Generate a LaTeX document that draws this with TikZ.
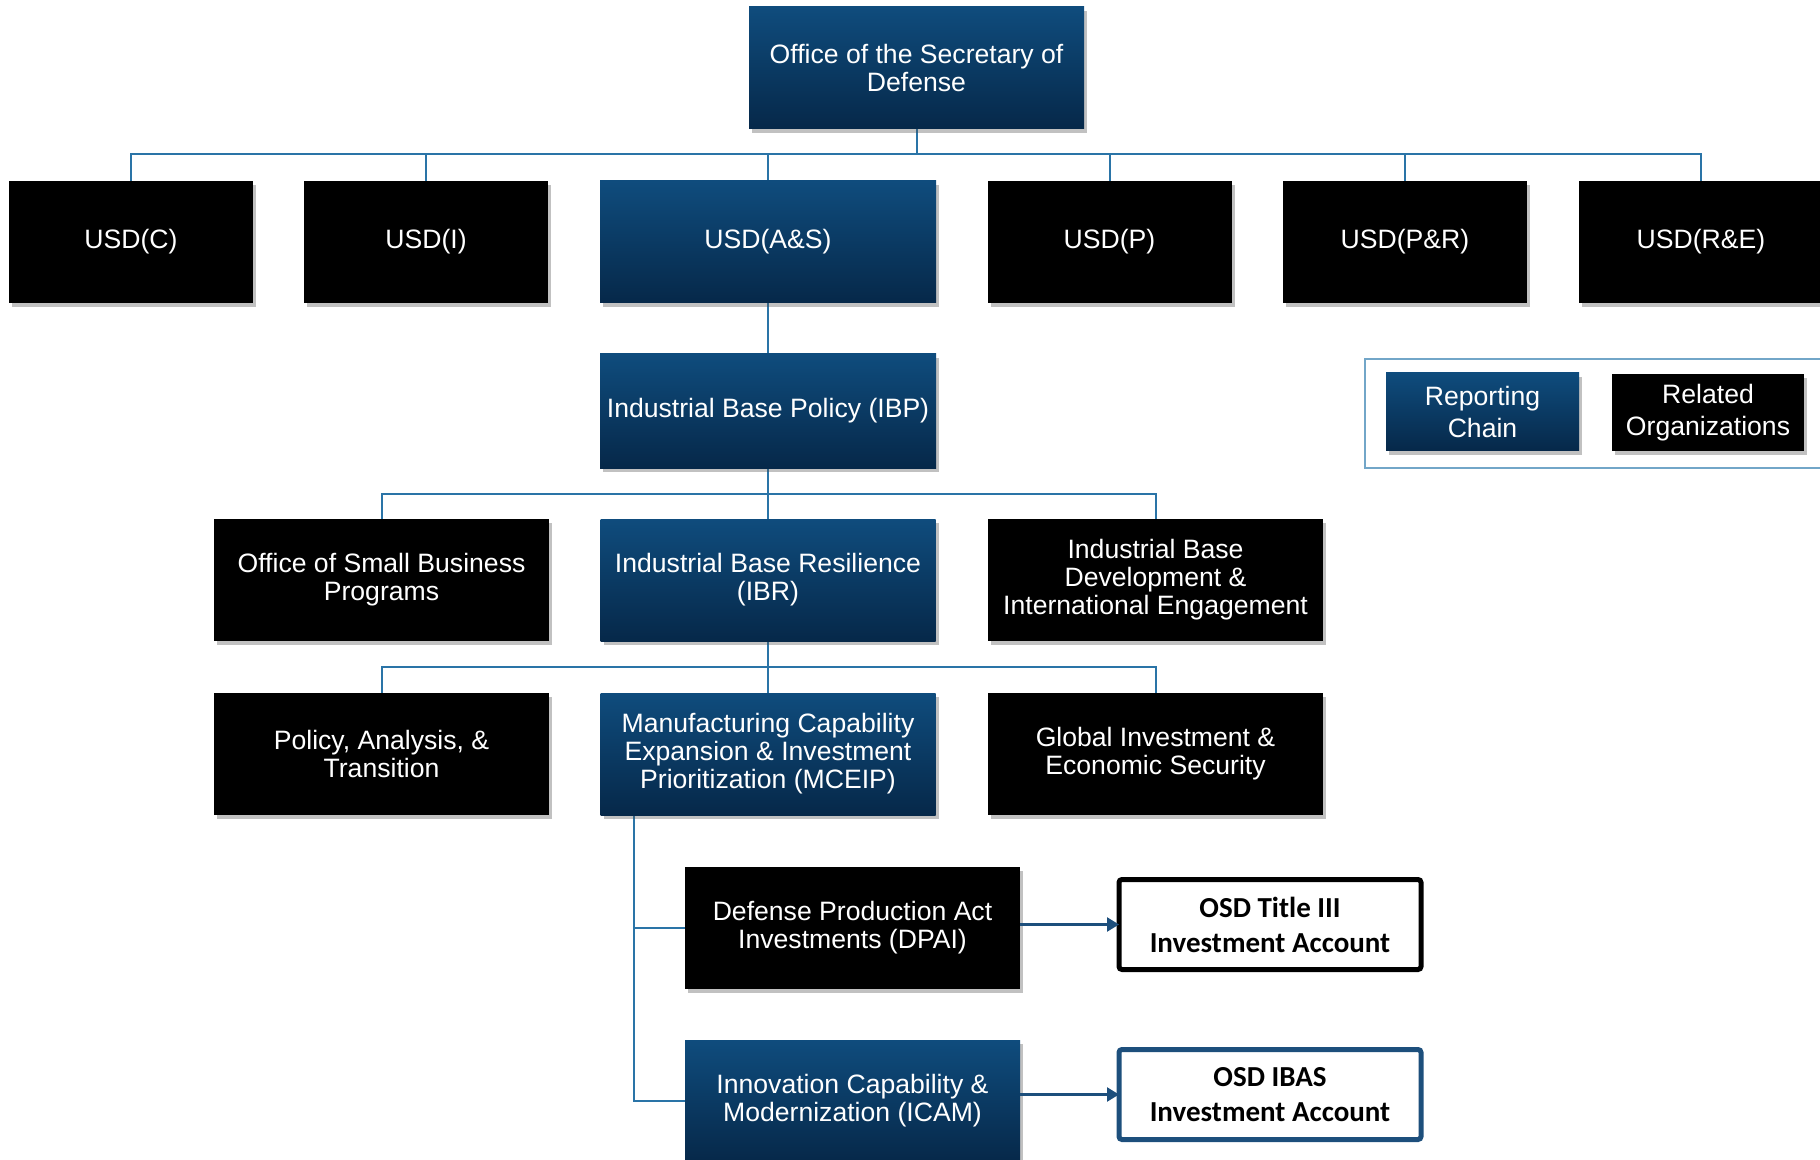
\documentclass[tikz,border=0pt]{standalone}
\usepackage{fontspec}
\setmainfont{Liberation Sans}
\newfontfamily\calib{Carlito}
\usetikzlibrary{shadows,arrows.meta}
\definecolor{bTop}{HTML}{0F4C7D}
\definecolor{bBot}{HTML}{062849}
\definecolor{lineblue}{HTML}{2A74A7}
\definecolor{arrblue}{HTML}{1D4F7C}
\definecolor{frameblue}{HTML}{72A6C8}
\newcommand\boxfont{\fontsize{13.3}{14}\selectfont}
\newcommand\acctfont{\calib\bfseries\fontsize{14.5}{17.5}\selectfont}
\pgfdeclarelayer{background}
\pgfsetlayers{background,main}
\begin{document}
\begin{tikzpicture}[x=0.5pt,y=-0.5pt,
  base/.style={text=white, align=center, inner sep=0pt, outer sep=0pt, font=\boxfont,
    drop shadow={shadow xshift=1.5pt, shadow yshift=-2pt, opacity=0.35, fill=black!70}},
  bluebox/.style={base, top color=bTop, bottom color=bBot},
  blackbox/.style={base, fill=black},
  usd/.style={minimum width=122pt, minimum height=61pt},
  wide/.style={minimum width=167.5pt, minimum height=61pt},
  conn/.style={draw=lineblue, line width=1pt},
  arr/.style={draw=arrblue, line width=1.2pt, -{Triangle[length=6pt,width=7pt]}},
  acct/.style={draw, line width=2.5pt, rounded corners=1.5pt, fill=white, align=center, font=\acctfont,
    minimum width=151pt, minimum height=45pt, inner sep=0pt, outer sep=0pt}
]
\useasboundingbox (0,0) rectangle (1820,1160);

% top
\node[bluebox, wide] (osd) at (916.5,68) {Office of the Secretary of\\Defense};

% USD row
\node[blackbox, usd] (usdc) at (131,242) {USD(C)};
\node[blackbox, usd] (usdi) at (426,242) {USD(I)};
\node[bluebox, minimum width=168pt, minimum height=61pt] (usdas) at (768,242) {USD(A\&S)};
\node[blackbox, usd] (usdp) at (1109.5,242) {USD(P)};
\node[blackbox, usd] (usdpr) at (1405,242) {USD(P\&R)};
\node[blackbox, usd] (usdre) at (1701,242) {USD(R\&E)};

% IBP
\node[bluebox, minimum width=168pt, minimum height=57pt] (ibp) at (768,411) {Industrial Base Policy (IBP)};

% row 3
\node[blackbox, wide] (osbp) at (381.5,580) {Office of Small Business\\Programs};
\node[bluebox, wide] (ibr) at (768,580) {Industrial Base Resilience\\(IBR)};
\node[blackbox, wide] (ibdie) at (1155.5,580) {Industrial Base\\Development \&\\International Engagement};

% row 4
\node[blackbox, wide] (pat) at (381.5,754) {Policy, Analysis, \&\\Transition};
\node[bluebox, wide] (mceip) at (768,754) {Manufacturing Capability\\Expansion \& Investment\\Prioritization (MCEIP)};
\node[blackbox, wide] (gies) at (1155.5,754) {Global Investment \&\\Economic Security};

% row 5
\node[blackbox, wide] (dpai) at (852.5,928) {Defense Production Act\\Investments (DPAI)};
\node[bluebox, wide] (icam) at (852.5,1101) {Innovation Capability \&\\Modernization (ICAM)};

% accounts
\node[acct, draw=black] (t3) at (1270,924.5) {OSD Title III\\Investment Account};
\node[acct, draw=arrblue] (ibas) at (1270,1094.5) {OSD IBAS\\Investment Account};

% legend
\draw[frameblue, line width=1.2pt] (1365,359) rectangle (1850,468);
\node[bluebox, minimum width=96.5pt, minimum height=39pt, font=\fontsize{13.3}{15.8}\selectfont] (lrep) at (1482.5,412) {Reporting\\Chain};
\node[blackbox, minimum width=96pt, minimum height=38.5pt, font=\fontsize{13.3}{15.8}\selectfont] (lrel) at (1708,412.5) {Related\\Organizations};

% connectors
\coordinate (bus1) at (0,154);
\coordinate (bus2) at (0,494);
\coordinate (bus3) at (0,667);
\coordinate (tap) at (634,815);
\begin{pgfonlayer}{background}
\draw[conn] (osd.south) -- (osd.south |- bus1);
\foreach \n in {usdc,usdi,usdas,usdp,usdpr,usdre}
  \draw[conn] (\n.north) -- (\n.north |- bus1) -- (osd.south |- bus1);
\draw[conn] (usdas.south) -- (ibp.north);
\draw[conn] (ibp.south) -- (ibp.south |- bus2);
\foreach \n in {osbp,ibr,ibdie}
  \draw[conn] (\n.north) -- (\n.north |- bus2) -- (ibp.south |- bus2);
\draw[conn] (ibr.south) -- (ibr.south |- bus3);
\foreach \n in {pat,mceip,gies}
  \draw[conn] (\n.north) -- (\n.north |- bus3) -- (ibr.south |- bus3);
\draw[conn] (tap) |- (dpai.west);
\draw[conn] (tap) |- (icam.west);
\end{pgfonlayer}
\draw[arr] (dpai.east |- t3.west) -- (t3.west);
\draw[arr] (icam.east |- ibas.west) -- (ibas.west);
\end{tikzpicture}
\end{document}
